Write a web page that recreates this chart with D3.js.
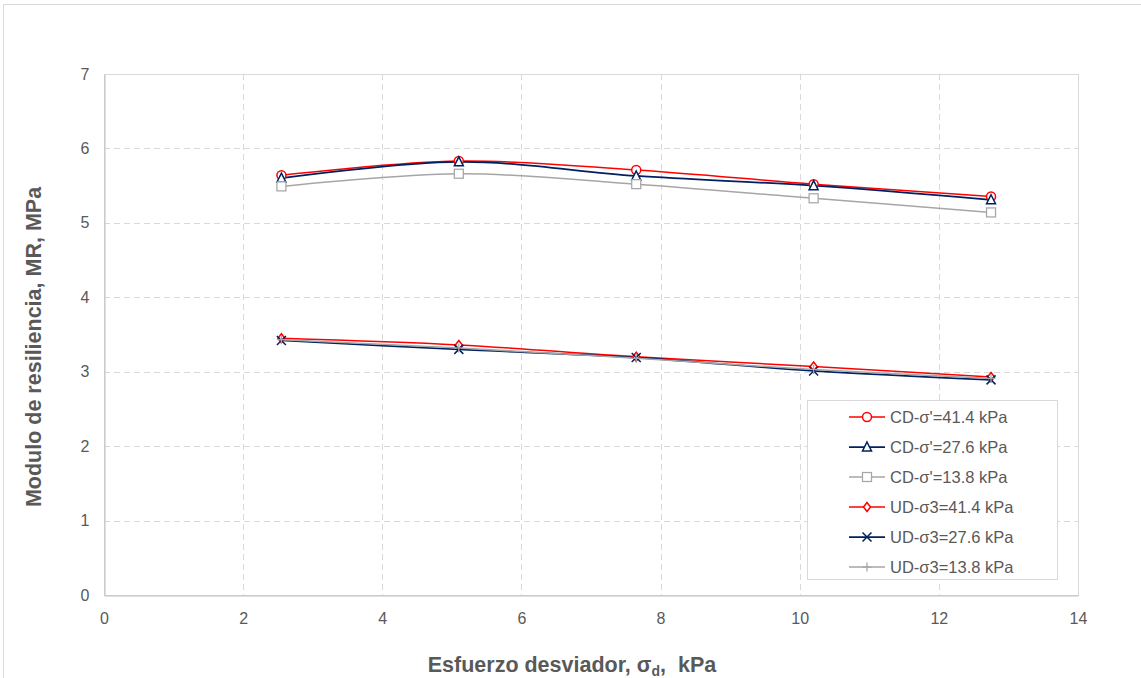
<!DOCTYPE html>
<html>
<head>
<meta charset="utf-8">
<script src="https://cdn.jsdelivr.net/npm/d3@7"></script>
<style>
  body { margin: 0; background: #fff; }
  svg { display: block; font-family: "Liberation Sans", Arial, sans-serif; }
</style>
</head>
<body>
<svg id="chart" width="1141" height="678"></svg>
<script>
// ---- data ----
const xValues = [2.55, 5.1, 7.65, 10.2, 12.75];
const seriesNames = ["CD-σ'=41.4 kPa", "CD-σ'=27.6 kPa", "CD-σ'=13.8 kPa",
                     "UD-σ3=41.4 kPa", "UD-σ3=27.6 kPa", "UD-σ3=13.8 kPa"];
const cd414 = [5.64, 5.83, 5.71, 5.52, 5.355];
const cd276 = [5.60, 5.82, 5.63, 5.50, 5.31];
const cd138 = [5.49, 5.66, 5.52, 5.33, 5.14];
const ud414 = [3.45, 3.36, 3.20, 3.07, 2.93];
const ud276 = [3.42, 3.30, 3.19, 3.01, 2.89];
const ud138 = [3.43, 3.32, 3.18, 3.03, 2.91];
const xTicks = [0, 2, 4, 6, 8, 10, 12, 14];
const yTicks = [0, 1, 2, 3, 4, 5, 6, 7];

// ---- styles ----
const styles = [
  { color: "#ff0000", marker: "circle",   width: 1.5 },
  { color: "#002060", marker: "triangle", width: 1.75 },
  { color: "#a6a6a6", marker: "square",   width: 1.5 },
  { color: "#ff0000", marker: "diamond",  width: 1.5 },
  { color: "#002060", marker: "x",        width: 1.75 },
  { color: "#a6a6a6", marker: "plus",     width: 1.5 }
];
const allValues = [cd414, cd276, cd138, ud414, ud276, ud138];
const series = seriesNames.map((name, i) => ({
  name, values: allValues[i].map((v, j) => ({ x: xValues[j], y: v })), ...styles[i]
}));

const svg = d3.select("#chart");
const L = 104, R = 1078, T = 74, B = 595;
const x = d3.scaleLinear().domain([0, 14]).range([L, R]);
const y = d3.scaleLinear().domain([0, 7]).range([B, T]);

// outer chart border
svg.append("rect").attr("x", 3.5).attr("y", 4.5).attr("width", 1200).attr("height", 700)
  .attr("fill", "none").attr("stroke", "#d9d9d9").attr("stroke-width", 1);

// gridlines
const grid = svg.append("g");
grid.selectAll(".gx").data(xTicks.filter(d => d > 0 && d < 14)).join("line")
  .attr("x1", d => Math.round(x(d)) + 0.5).attr("x2", d => Math.round(x(d)) + 0.5)
  .attr("y1", T).attr("y2", B)
  .attr("stroke", "#d9d9d9").attr("stroke-dasharray", "6,4");
grid.selectAll(".gy").data(yTicks.filter(d => d > 0 && d < 7)).join("line")
  .attr("y1", d => Math.round(y(d)) + 0.5).attr("y2", d => Math.round(y(d)) + 0.5)
  .attr("x1", L).attr("x2", R)
  .attr("stroke", "#d9d9d9").attr("stroke-dasharray", "6,4");

// plot border
svg.append("rect").attr("x", L + 0.5).attr("y", T + 0.5).attr("width", R - L).attr("height", B - T)
  .attr("fill", "none").attr("stroke", "#d9d9d9");

// axes
const xAxis = d3.axisBottom(x).tickValues(xTicks).tickFormat(d3.format("d")).tickSize(0).tickPadding(17);
const yAxis = d3.axisLeft(y).tickValues(yTicks).tickFormat(d3.format("d")).tickSize(0).tickPadding(15);
const gx = svg.append("g").attr("transform", `translate(0,${B + 0.5})`).call(xAxis);
const gy = svg.append("g").attr("transform", `translate(${L + 0.5},0)`).call(yAxis);
[gx, gy].forEach(g => {
  g.select(".domain").attr("stroke", "#bfbfbf").attr("stroke-width", 1);
  g.selectAll("text").attr("font-size", 16).attr("fill", "#595959")
    .attr("font-family", "'Liberation Sans', Arial, sans-serif");
});

// axis titles
const xt = svg.append("text").attr("x", 572).attr("y", 672).attr("text-anchor", "middle")
  .attr("font-size", 21.5).attr("font-weight", "bold").attr("fill", "#595959");
xt.append("tspan").text("Esfuerzo desviador, σ");
xt.append("tspan").attr("font-size", 14).attr("dy", 4).text("d");
xt.append("tspan").attr("dy", -4).text(",\u00a0 kPa");

svg.append("text").attr("transform", "translate(41,347) rotate(-90)").attr("text-anchor", "middle")
  .attr("font-size", 21.5).attr("font-weight", "bold").attr("fill", "#595959")
  .text("Modulo de resiliencia, MR, MPa");

// markers
function drawMarker(g, type, color, cx, cy) {
  const s = 4.5;
  if (type === "circle") {
    g.append("circle").attr("cx", cx).attr("cy", cy).attr("r", 4.5)
      .attr("fill", "#fff").attr("stroke", color).attr("stroke-width", 1.5);
  } else if (type === "triangle") {
    g.append("path").attr("d", `M${cx},${cy - 5}L${cx + 4.5},${cy + 4}L${cx - 4.5},${cy + 4}Z`)
      .attr("fill", "#fff").attr("stroke", color).attr("stroke-width", 1.5);
  } else if (type === "square") {
    g.append("rect").attr("x", cx - 4.5).attr("y", cy - 4.5).attr("width", 9).attr("height", 9)
      .attr("fill", "#fff").attr("stroke", color).attr("stroke-width", 1.25);
  } else if (type === "diamond") {
    g.append("path").attr("d", `M${cx},${cy - 4.5}L${cx + 3.5},${cy}L${cx},${cy + 4.5}L${cx - 3.5},${cy}Z`)
      .attr("fill", "#fff").attr("stroke", color).attr("stroke-width", 1.5);
  } else if (type === "x") {
    g.append("path").attr("d", `M${cx - s},${cy - s}L${cx + s},${cy + s}M${cx - s},${cy + s}L${cx + s},${cy - s}`)
      .attr("stroke", color).attr("stroke-width", 1.5);
  } else if (type === "plus") {
    g.append("path").attr("d", `M${cx - s},${cy}L${cx + s},${cy}M${cx},${cy - s}L${cx},${cy + s}`)
      .attr("stroke", color).attr("stroke-width", 1.25);
  }
}

// lines
const line = d3.line().x(d => x(d.x)).y(d => y(d.y)).curve(d3.curveCardinal.tension(0));
const plot = svg.append("g");
series.forEach(s => {
  plot.append("path").datum(s.values).attr("d", line)
    .attr("fill", "none").attr("stroke", s.color).attr("stroke-width", s.width);
});
series.forEach(s => {
  const g = plot.append("g");
  s.values.forEach(d => drawMarker(g, s.marker, s.color, x(d.x), y(d.y)));
});

// legend
const lg = svg.append("g");
lg.append("rect").attr("x", 807.5).attr("y", 400.5).attr("width", 250).attr("height", 179)
  .attr("fill", "#fff").attr("stroke", "#d9d9d9");
series.forEach((s, i) => {
  const cy = 417 + i * 30;
  lg.append("line").attr("x1", 849).attr("x2", 885).attr("y1", cy).attr("y2", cy)
    .attr("stroke", s.color).attr("stroke-width", s.width);
  drawMarker(lg, s.marker, s.color, 867, cy);
  lg.append("text").attr("x", 890).attr("y", cy + 6).attr("font-size", 16.5)
    .attr("fill", "#595959").text(s.name);
});
</script>
</body>
</html>
